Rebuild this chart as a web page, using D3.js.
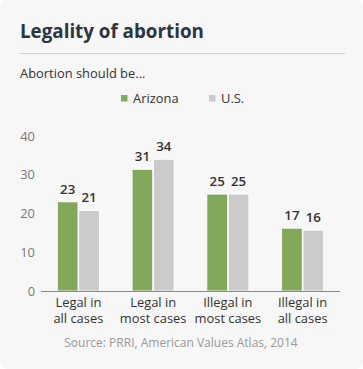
<!DOCTYPE html>
<html><head><meta charset="utf-8">
<script src="https://cdn.jsdelivr.net/npm/d3@7"></script>
<style>
html,body{margin:0;padding:0;background:#fff;}
text{font-family:"Open Sans",sans-serif;}
</style></head>
<body>
<svg id="c" width="363" height="369"></svg>
<script>
const categories = [["Legal in","all cases"],["Legal in","most cases"],["Illegal in","most cases"],["Illegal in","all cases"]];
const seriesNames = ["Arizona","U.S."];
const arizona = [23, 31.4, 25, 16.2];
const us = [20.8, 34, 25, 15.7];
const arizonaLabels = ["23","31","25","17"];
const usLabels = ["21","34","25","16"];
const yTicks = [0,10,20,30,40];
const colors = ["#82a85a","#cbcbcb"];

const svg = d3.select("#c");
svg.append("rect").attr("x",0).attr("y",0).attr("width",363).attr("height",369).attr("rx",8).attr("fill","#f7f7f7");

svg.append("text").attr("x",20).attr("y",38).attr("font-size",18.8).attr("font-weight",700).attr("fill","#2d3540").text("Legality of abortion");
svg.append("line").attr("x1",20).attr("x2",345).attr("y1",53.5).attr("y2",53.5).attr("stroke","#cfcfcf").attr("stroke-width",1);
svg.append("text").attr("x",20).attr("y",78).attr("font-size",12.9).attr("fill","#333").text("Abortion should be...");

// legend
const legX = [121, 209];
seriesNames.forEach((n,i)=>{
  svg.append("rect").attr("x",legX[i]).attr("y",95).attr("width",6.5).attr("height",6.5).attr("fill",colors[i]);
  svg.append("text").attr("x",legX[i]+12).attr("y",103).attr("font-size",12.9).attr("fill","#333").text(n);
});

const x = d3.scaleBand().domain(d3.range(categories.length)).range([41,340]);
const y = d3.scaleLinear().domain([0,40]).range([291,136]);
const x1 = d3.scaleBand().domain([0,1]).range([x.bandwidth()/2-21, x.bandwidth()/2+21]).paddingInner(0.04);

// y axis labels
svg.append("g").selectAll("text").data(yTicks).join("text")
  .attr("x",35).attr("y",d=>y(d)).attr("dy","0.35em").attr("text-anchor","end")
  .attr("font-size",12.9).attr("fill","#777").text(d=>d);

const series = [arizona, us];
const labels = [arizonaLabels, usLabels];
const g = svg.append("g");
categories.forEach((c,ci)=>{
  series.forEach((s,si)=>{
    const bx = x(ci)+x1(si);
    g.append("rect").attr("x",bx).attr("y",y(s[ci])).attr("width",x1.bandwidth()).attr("height",y(0)-y(s[ci]))
      .attr("fill",colors[si]).attr("stroke","#fff").attr("stroke-width",0.8);
    g.append("text").attr("x",bx+x1.bandwidth()/2).attr("y",y(s[ci])-8).attr("text-anchor","middle")
      .attr("font-size",13.3).attr("font-weight",600).attr("fill","#333").text(labels[si][ci]);
  });
});

// x axis
svg.append("line").attr("x1",41).attr("x2",340).attr("y1",291.5).attr("y2",291.5).attr("stroke","#888").attr("stroke-width",1);
const xg = svg.append("g");
[0,1].forEach(line=>{
  xg.selectAll("text.l"+line).data(categories).join("text").attr("class","l"+line)
    .attr("x",(d,i)=>x(i)+x.bandwidth()/2).attr("y",307+line*15.5).attr("text-anchor","middle")
    .attr("font-size",12.9).attr("fill","#333").text(d=>d[line]);
});

svg.append("text").attr("x",181).attr("y",347).attr("text-anchor","middle").attr("font-size",12).attr("fill","#999")
  .text("Source: PRRI, American Values Atlas, 2014");
</script>
</body></html>
